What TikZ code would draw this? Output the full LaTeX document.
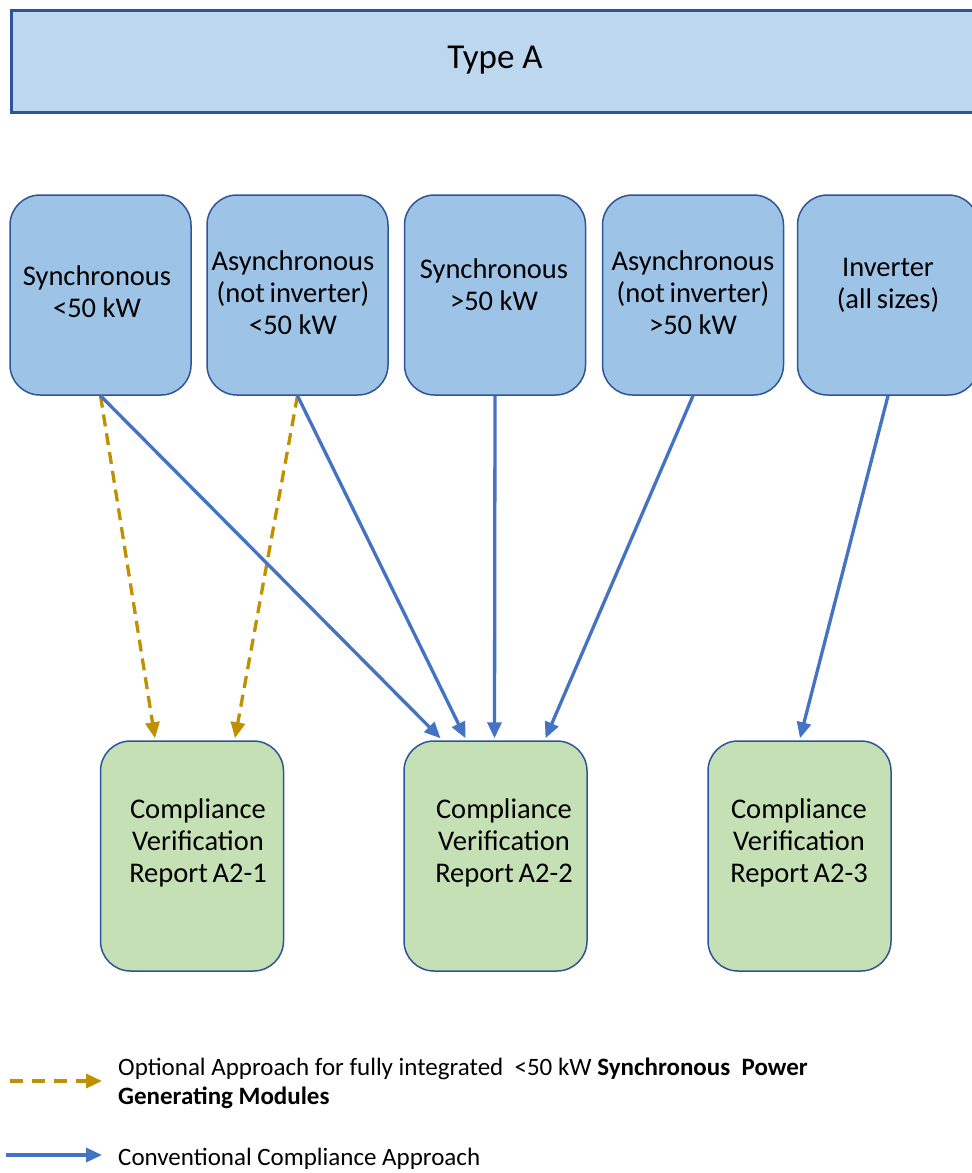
\documentclass[tikz,border=0pt]{standalone}
\usepackage{fontspec}
\setmainfont{Carlito}
\usetikzlibrary{arrows.meta,calc}
\definecolor{topfill}{HTML}{BDD7EE}
\definecolor{midfill}{HTML}{9DC3E6}
\definecolor{grnfill}{HTML}{C5E0B4}
\definecolor{edgeblue}{HTML}{2F5597}
\definecolor{arrblue}{HTML}{4472C4}
\definecolor{gold}{HTML}{BF9000}
\tikzset{
  srcbox/.style={draw=edgeblue, line width=1.5pt, fill=midfill, rounded corners=30pt, minimum width=181pt, minimum height=200pt, inner sep=0pt},
  repbox/.style={draw=edgeblue, line width=1.5pt, fill=grnfill, rounded corners=30pt, minimum width=183pt, minimum height=230pt, inner sep=0pt},
  boxtxt/.style={font=\fontsize{28.5}{32}\selectfont, align=center, inner sep=0pt, text=black},
  conv/.style={draw=arrblue, line width=3.3pt, -{Triangle[length=16pt,width=14pt]}},
  opt/.style={draw=gold, line width=3.3pt, dash pattern=on 12pt off 7pt, -{Triangle[length=16pt,width=14pt]}},
  legtxt/.style={font=\fontsize{25}{29}\selectfont, align=left, inner sep=0pt, anchor=west}
}
\begin{document}
\begin{tikzpicture}[x=1pt,y=-1pt]
\useasboundingbox[fill=white] (0,0) rectangle (972,1173);
% header
\node[draw=edgeblue, line width=3pt, fill=topfill, minimum width=980pt, minimum height=102pt, anchor=north west, inner sep=0pt] (hdr) at (10,8.5) {};
\node[font=\fontsize{35}{40}\selectfont, inner sep=0pt] (hdrt) at (495,60) {Type A};
% source boxes
\node[srcbox] (s1) at (100.5,295) {};
\node[srcbox] (s2) at (297.5,295) {};
\node[srcbox] (s3) at (495,295) {};
\node[srcbox] (s4) at (693,295) {};
\node[srcbox] (s5) at (888,295) {};
\node[boxtxt] (s1t) at (97,292) {Synchronous\\<50 kW};
\node[boxtxt] (s2t) at (293,293) {Asynchronous\\(not\,inverter)\\<50 kW};
\node[boxtxt] (s3t) at (494,285) {Synchronous\\>50 kW};
\node[boxtxt] (s4t) at (693,293) {Asynchronous\\(not\,inverter)\\>50 kW};
\node[boxtxt] (s5t) at (888,285) {Inverter\\(all\,sizes)};
% report boxes
\node[repbox] (r1) at (192,856) {};
\node[repbox] (r2) at (495.5,856) {};
\node[repbox] (r3) at (799.5,856) {};
\node[boxtxt] (r1t) at (198,843) {Compliance\\Verification\\Report\,A2-1};
\node[boxtxt] (r2t) at (504,843) {Compliance\\Verification\\Report\,A2-2};
\node[boxtxt] (r3t) at (799,843) {Compliance\\Verification\\Report\,A2-3};
% connectors
\draw[opt] (s1.south) -- ($(r1.north)+(-37,-2)$);
\draw[opt] (s2.south) -- ($(r1.north)+(43,-2)$);
\draw[conv] (s1.south) -- ($(r2.north)+(-55,-2)$);
\draw[conv] (s2.south) -- ($(r2.north)+(-30,-2)$);
\draw[conv] (s3.south) -- ($(r2.north)+(-1,-2)$);
\draw[conv] (s4.south) -- ($(r2.north)+(50,-2)$);
\draw[conv] (s5.south) -- ($(r3.north)+(0.5,-2)$);
% legend
\coordinate (l1a) at (10,1081);
\coordinate (l1b) at (102,1081);
\coordinate (l2a) at (6,1155);
\coordinate (l2b) at (102,1155);
\draw[opt, dash pattern=on 13pt off 9pt] (l1a) -- (l1b);
\draw[conv] (l2a) -- (l2b);
\node[legtxt] (lt1) at (118,1083) {Optional Approach for fully integrated\ \ <50 kW \textbf{Synchronous\ \ Power}\\\textbf{Generating Modules}};
\node[legtxt] (lt2) at (118,1159) {Conventional Compliance Approach};
\end{tikzpicture}
\end{document}
